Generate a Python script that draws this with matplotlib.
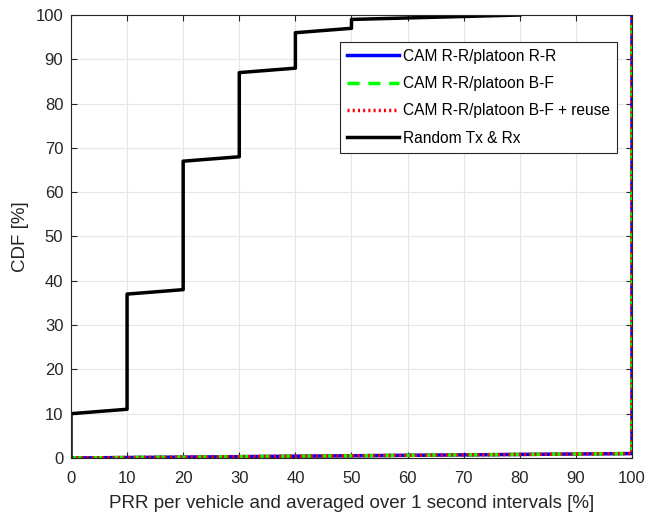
import matplotlib
matplotlib.use("Agg")
import matplotlib.pyplot as plt

plt.rcParams['font.family'] = ['Liberation Sans', 'DejaVu Sans']

# Data
rand_x = [0, 0, 10, 10, 20, 20, 30, 30, 40, 40, 50, 50, 80]
rand_y = [0, 10, 11, 37, 38, 67, 68, 87, 88, 96, 97, 99, 100]
cam_x = [0, 100, 100]
cam_y = [0, 1, 100]

labels = ["CAM R-R/platoon R-R", "CAM R-R/platoon B-F",
          "CAM R-R/platoon B-F + reuse", "Random Tx & Rx"]
xticks = list(range(0, 101, 10))
yticks = list(range(0, 101, 10))

fig = plt.figure(figsize=(6.47, 5.12), dpi=100)
ax = fig.add_axes([0.1097, 0.1055, 0.8671, 0.8652])

lw = 2.5
ax.plot(cam_x, cam_y, color='#0000ff', lw=lw, ls='-', label=labels[0])
ax.plot(cam_x, cam_y, color='#00ff00', lw=lw, ls=(0, (3.5, 2.5)), label=labels[1])
ax.plot(cam_x, cam_y, color='#ff0000', lw=lw, ls=(0, (0.6, 0.9)), label=labels[2])
ax.plot(rand_x, rand_y, color='black', lw=lw, ls='-', label=labels[3])

ax.set_xlim(0, 100)
ax.set_ylim(0, 100)
ax.set_xticks(xticks)
ax.set_yticks(yticks)
ax.tick_params(direction='in', top=True, right=True, labelsize=12, length=4,
               color='#262626', labelcolor='#262626')
ax.tick_params(axis='x', pad=9.5)
ax.tick_params(axis='y', pad=5.5)
ax.grid(True, color='#e6e6e6', lw=0.8)
ax.set_axisbelow(True)
for s in ax.spines.values():
    s.set_color('#262626')
    s.set_linewidth(0.8)

ax.set_xlabel("PRR per vehicle and averaged over 1 second intervals [%]", fontsize=13.5, color='#262626', labelpad=6.5)
ax.set_ylabel("CDF [%]", fontsize=13.5, color='#262626', labelpad=5)

leg = ax.legend(loc='upper right', bbox_to_anchor=(0.974, 0.94), borderaxespad=0,
                fontsize=11.2, fancybox=False, framealpha=1, edgecolor='#262626',
                handlelength=3.3, handletextpad=0.3, labelspacing=0.8, borderpad=0.45)
leg.get_frame().set_linewidth(0.8)

fig.savefig("out.png", dpi=100)
